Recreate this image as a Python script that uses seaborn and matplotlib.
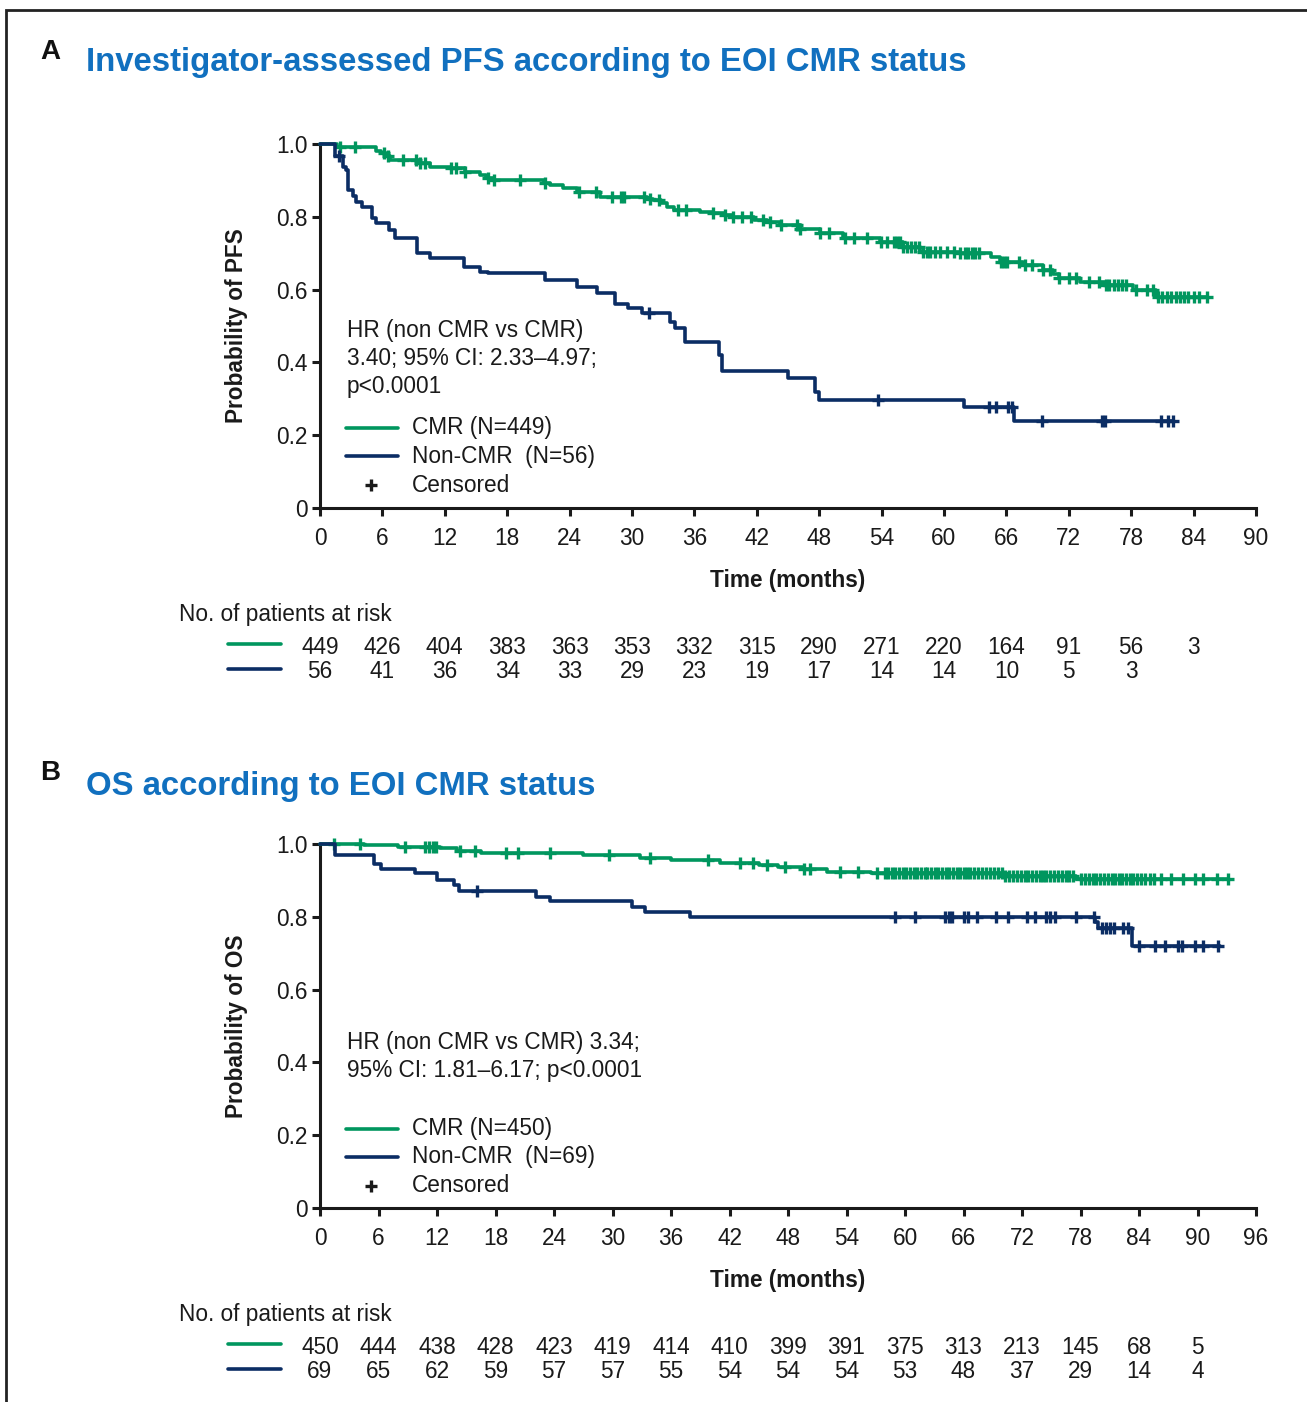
import numpy as np
import pandas as pd
import matplotlib
matplotlib.use("Agg")
import matplotlib.pyplot as plt
import seaborn as sns
from matplotlib.lines import Line2D
from matplotlib.patches import Rectangle
from matplotlib.transforms import blended_transform_factory

# ---------------- data ----------------
# Panel A: progression-free survival (step times in months, survival after step)
pfs_cmr_t = [0, 1.6, 5.4, 5.9, 6.3, 6.7, 9.6, 10.6, 12.5, 13.9, 15.4, 16.0, 16.7, 21.5, 22.1,
             23.4, 24.7, 26.9, 31.4, 32.0, 32.8, 33.4, 34.0, 36.5, 37.8, 38.8, 39.7, 41.7, 43.0,
             44.2, 46.2, 48.1, 50.3, 53.8, 56.1, 57.7, 61.5, 64.5, 65.4, 67.6, 69.5, 70.5, 71.1,
             73.1, 75.6, 78.2, 80.4]
pfs_cmr_s = [1.0, 0.991, 0.982, 0.975, 0.966, 0.956, 0.947, 0.938, 0.933, 0.924, 0.915, 0.906,
             0.901, 0.892, 0.887, 0.878, 0.869, 0.855, 0.850, 0.846, 0.837, 0.828, 0.818, 0.814,
             0.811, 0.805, 0.800, 0.791, 0.785, 0.778, 0.766, 0.755, 0.743, 0.731, 0.718, 0.704,
             0.700, 0.690, 0.677, 0.668, 0.654, 0.642, 0.631, 0.622, 0.612, 0.599, 0.580]
pfs_cmr_end = 85.3
pfs_cmr_cens = [1.9, 3.4, 6.2, 6.5, 8.0, 9.2, 9.6, 10.1, 12.6, 13.1, 13.9, 16.2, 16.7, 19.2, 21.6,
                24.9, 26.5, 28.1, 28.9, 29.2, 31.2, 31.7, 32.6, 34.4, 35.2, 37.8, 38.9, 39.7, 40.6,
                41.4, 42.6, 43.3, 44.3, 45.9, 46.2, 48.1, 48.9, 50.5, 51.3, 52.6, 53.9, 54.5, 55.2,
                55.5, 55.8, 56.1, 56.4, 56.8, 57.2, 57.6, 58.0, 58.4, 58.7, 59.1, 59.6, 60.3, 61.0,
                61.5, 62.0, 62.3, 62.7, 63.0, 63.4, 65.5, 65.8, 66.1, 67.2, 67.8, 68.5, 69.5, 70.2,
                71.1, 72.0, 72.7, 73.9, 74.9, 75.6, 75.9, 76.3, 76.7, 77.1, 77.5, 78.5, 79.5, 80.1,
                80.6, 81.0, 81.4, 81.8, 82.3, 82.7, 83.1, 83.5, 84.0, 84.5, 85.3]

pfs_non_t = [0, 1.4, 2.2, 2.5, 2.7, 3.2, 3.5, 4.0, 5.0, 5.4, 6.6, 7.2, 9.3, 10.6, 13.8, 15.4,
             16.2, 21.6, 24.7, 26.6, 28.4, 29.6, 31.0, 33.7, 34.1, 35.1, 38.4, 38.7, 45.0, 47.6,
             48.0, 61.9, 66.7]
pfs_non_s = [1.0, 0.966, 0.938, 0.929, 0.874, 0.857, 0.841, 0.828, 0.796, 0.782, 0.764, 0.741,
             0.700, 0.686, 0.663, 0.649, 0.645, 0.626, 0.608, 0.590, 0.560, 0.549, 0.535, 0.512,
             0.494, 0.457, 0.421, 0.375, 0.356, 0.320, 0.297, 0.277, 0.240]
pfs_non_end = 82.0
pfs_non_cens = [1.8, 31.6, 53.7, 64.3, 65.0, 66.2, 66.5, 69.4, 75.2, 75.5, 80.9, 81.5, 82.0]

# Panel B: overall survival
os_cmr_t = [0, 4.5, 8.0, 12.3, 14.0, 16.5, 27.0, 32.8, 36.0, 41.0, 45.0, 47.0, 49.5, 52.0,
            56.5, 70.0, 77.5]
os_cmr_s = [1.0, 0.997, 0.993, 0.988, 0.982, 0.975, 0.970, 0.962, 0.956, 0.949, 0.942, 0.938,
            0.930, 0.924, 0.919, 0.913, 0.903]
os_cmr_end = 93.1
os_cmr_cens = [1.4, 4.1, 8.7, 10.8, 11.2, 11.6, 11.9, 14.4, 15.9, 19.1, 20.3, 23.6, 29.6, 33.8,
               39.8, 43.1, 44.4, 45.8, 47.7, 49.6, 50.3, 53.3, 55.2, 57.1, 57.9, 58.3, 58.7,
               59.0, 59.4, 59.8, 60.1, 60.5, 60.9, 61.2, 61.6, 62.0, 62.3, 62.7, 63.1, 63.4,
               63.8, 64.2, 64.5, 64.9, 65.3, 65.6, 66.0, 66.4, 66.7, 67.1, 67.5, 67.9, 68.3,
               68.7, 69.1, 69.5, 69.9, 70.3, 70.7, 71.1, 71.5, 71.9, 72.3, 72.6, 73.0, 73.4,
               73.8, 74.2, 74.5, 74.9, 75.3, 75.7, 76.1, 76.5, 76.8, 77.2, 78.1, 78.5, 78.9,
               79.3, 79.6, 80.0, 80.4, 80.8, 81.2, 81.5, 81.9, 82.3, 82.7, 83.1, 83.4, 83.8,
               84.2, 84.6, 85.1, 85.5, 86.3, 87.3, 88.5, 89.7, 90.6, 92.0, 93.1]

os_non_t = [0, 1.5, 5.5, 6.3, 9.7, 12.0, 13.7, 14.3, 22.2, 23.6, 32.0, 33.3, 37.9, 79.5, 79.8, 83.3]
os_non_s = [1.0, 0.971, 0.946, 0.930, 0.919, 0.901, 0.887, 0.871, 0.855, 0.844, 0.828, 0.814,
            0.799, 0.785, 0.768, 0.720]
os_non_end = 92.3
os_non_cens = [16.1, 59.0, 61.0, 64.1, 64.5, 64.8, 66.1, 66.5, 67.4, 69.3, 70.6, 72.5, 73.3, 74.5,
               74.9, 75.4, 77.5, 79.4, 80.2, 80.6, 81.0, 81.4, 82.4, 82.9, 84.0, 85.6, 86.7, 88.0,
               88.4, 89.7, 90.6, 92.1]

# Numbers at risk
pfs_risk_months = [0, 6, 12, 18, 24, 30, 36, 42, 48, 54, 60, 66, 72, 78, 84]
pfs_risk_cmr = [449, 426, 404, 383, 363, 353, 332, 315, 290, 271, 220, 164, 91, 56, 3]
pfs_risk_non = [56, 41, 36, 34, 33, 29, 23, 19, 17, 14, 14, 10, 5, 3]
os_risk_months = [0, 6, 12, 18, 24, 30, 36, 42, 48, 54, 60, 66, 72, 78, 84, 90]
os_risk_cmr = [450, 444, 438, 428, 423, 419, 414, 410, 399, 391, 375, 313, 213, 145, 68, 5]
os_risk_non = [69, 65, 62, 59, 57, 57, 55, 54, 54, 54, 53, 48, 37, 29, 14, 4]

# ---------------- style ----------------
GREEN = "#00965E"
NAVY = "#0B2D64"
TITLE_BLUE = "#1170BF"
TXT = "#1a1a1a"
FS = 16.3

sns.set_theme(style="ticks")
plt.rcParams["font.family"] = ["Liberation Sans", "DejaVu Sans"]

W, H = 1307, 1402
fig = plt.figure(figsize=(W / 100, H / 100), dpi=100)


def fx(x):
    return x / W


def fy(y):
    return 1 - y / H


def draw_km(ax, t, s, t_end, cens, color, z):
    df = pd.DataFrame({"t": list(t) + [t_end], "s": list(s) + [s[-1]]})
    sns.lineplot(data=df, x="t", y="s", drawstyle="steps-post", color=color, lw=2.6,
                 estimator=None, sort=False, ax=ax, clip_on=False, zorder=z)
    idx = np.searchsorted(np.asarray(t), np.asarray(cens), side="right") - 1
    cy = np.asarray(s)[idx]
    sns.scatterplot(x=cens, y=cy, marker="+", s=80, color=color, linewidth=2.4,
                    ax=ax, clip_on=False, zorder=z + 0.5)


def style_axes(ax, xmax, ylabel):
    ax.set_xlim(0, xmax)
    ax.set_ylim(0, 1)
    ax.set_xticks(np.arange(0, xmax + 1, 6))
    ax.set_yticks([0, 0.2, 0.4, 0.6, 0.8, 1.0])
    ax.set_yticklabels(["0", "0.2", "0.4", "0.6", "0.8", "1.0"])
    sns.despine(ax=ax)
    for sp in ("left", "bottom"):
        ax.spines[sp].set_linewidth(2.2)
        ax.spines[sp].set_color(TXT)
    ax.tick_params(axis="both", direction="out", length=6, width=2.2, color=TXT,
                   labelsize=FS, labelcolor=TXT)
    ax.tick_params(axis="x", pad=8)
    ax.tick_params(axis="y", pad=3)
    ax.set_xlabel("Time (months)", fontsize=FS, fontweight="bold", color=TXT)
    ax.set_ylabel(ylabel, fontsize=FS, fontweight="bold", color=TXT)
    ax.xaxis.set_label_coords(0.5, -0.168)
    ax.yaxis.set_label_coords(-0.077, 0.5)
    ax.set_facecolor("white")


def legend_block(x_line, rows_y, labels):
    cols = [GREEN, NAVY]
    for y, c, lab in zip(rows_y[:2], cols, labels):
        fig.add_artist(Line2D([fx(x_line), fx(x_line + 52)], [fy(y), fy(y)],
                              color=c, lw=2.6, transform=fig.transFigure))
        fig.text(fx(x_line + 66), fy(y), lab, fontsize=FS, color=TXT, va="center", ha="left")
    fig.add_artist(Line2D([fx(x_line + 25)], [fy(rows_y[2])], marker="+", ms=8, mew=2.4,
                          color=TXT, ls="none", transform=fig.transFigure))
    fig.text(fx(x_line + 66), fy(rows_y[2]), "Censored", fontsize=FS, color=TXT,
             va="center", ha="left")


def risk_table(ax, months, cmr, non, y_label, y_cmr, y_non):
    fig.text(fx(179), fy(y_label), "No. of patients at risk", fontsize=FS, color=TXT,
             va="center", ha="left")
    tr = blended_transform_factory(ax.transData, fig.transFigure)
    for vals, y, c in ((cmr, y_cmr, GREEN), (non, y_non, NAVY)):
        fig.add_artist(Line2D([fx(228), fx(281)], [fy(y - 3), fy(y - 3)], color=c, lw=2.6,
                              transform=fig.transFigure))
        for m, v in zip(months, vals):
            ax.text(m, fy(y), str(v), transform=tr, fontsize=FS, color=TXT,
                    ha="center", va="center", clip_on=False)


# ---------------- frame and panel headings ----------------
fig.add_artist(Rectangle((fx(5.5), -0.1), 2.0, fy(9.5) + 0.1, fill=False, lw=2.0,
                         edgecolor="#222222", transform=fig.transFigure))
fig.text(fx(40), fy(52), "A", fontsize=20, fontweight="bold", color="#111111",
         va="center", ha="left")
fig.text(fx(86), fy(63), "Investigator-assessed PFS according to EOI CMR status",
         fontsize=23.7, fontweight="bold", color=TITLE_BLUE, va="center", ha="left")
fig.text(fx(40), fy(773), "B", fontsize=20, fontweight="bold", color="#111111",
         va="center", ha="left")
fig.text(fx(86), fy(786), "OS according to EOI CMR status",
         fontsize=23.7, fontweight="bold", color=TITLE_BLUE, va="center", ha="left")

# ---------------- panel A ----------------
axA = fig.add_axes([fx(320), fy(508), (1256 - 320) / W, (508 - 144) / H])
draw_km(axA, pfs_cmr_t, pfs_cmr_s, pfs_cmr_end, pfs_cmr_cens, GREEN, 3)
draw_km(axA, pfs_non_t, pfs_non_s, pfs_non_end, pfs_non_cens, NAVY, 4)
style_axes(axA, 90, "Probability of PFS")
for y, line in zip((330, 358, 386), ("HR (non CMR vs CMR)", "3.40; 95% CI: 2.33\u20134.97;",
                                     "p<0.0001")):
    fig.text(fx(347), fy(y), line, fontsize=FS, color=TXT, va="center", ha="left")
legend_block(346, (428, 456, 485), ("CMR (N=449)", "Non-CMR  (N=56)"))
risk_table(axA, pfs_risk_months, pfs_risk_cmr, pfs_risk_non, 615, 647, 672)

# ---------------- panel B ----------------
axB = fig.add_axes([fx(320), fy(1208), (1256 - 320) / W, (1208 - 844) / H])
draw_km(axB, os_cmr_t, os_cmr_s, os_cmr_end, os_cmr_cens, GREEN, 3)
draw_km(axB, os_non_t, os_non_s, os_non_end, os_non_cens, NAVY, 4)
style_axes(axB, 96, "Probability of OS")
for y, line in zip((1042, 1070), ("HR (non CMR vs CMR) 3.34;",
                                  "95% CI: 1.81\u20136.17; p<0.0001")):
    fig.text(fx(347), fy(y), line, fontsize=FS, color=TXT, va="center", ha="left")
legend_block(346, (1129, 1157, 1186), ("CMR (N=450)", "Non-CMR  (N=69)"))
risk_table(axB, os_risk_months, os_risk_cmr, os_risk_non, 1315, 1347, 1372)

fig.savefig("out.png", dpi=100, facecolor="white")
